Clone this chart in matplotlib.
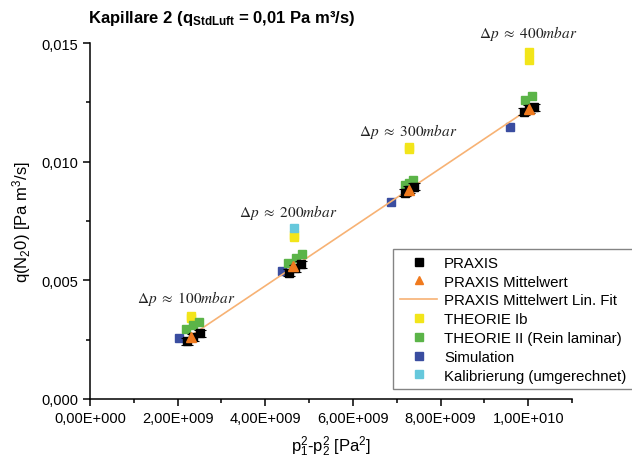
import matplotlib
matplotlib.use('Agg')
import matplotlib.pyplot as plt
import numpy as np
from matplotlib.ticker import FuncFormatter, MultipleLocator

plt.rcParams['font.family'] = ['Liberation Sans', 'DejaVu Sans']
plt.rcParams['mathtext.fontset'] = 'custom'
plt.rcParams['mathtext.rm'] = 'Liberation Sans'
plt.rcParams['mathtext.it'] = 'Liberation Sans:italic'
plt.rcParams['mathtext.bf'] = 'Liberation Sans:bold'

# PRAXIS Messpunkte (je 3 pro Druckstufe)
praxis_x = [2.21e9, 2.35e9, 2.51e9, 4.54e9, 4.68e9, 4.82e9,
            7.19e9, 7.28e9, 7.40e9, 9.91e9, 1.002e10, 1.014e10]
praxis_y = [0.00244, 0.00260, 0.00277, 0.00533, 0.00550, 0.00567,
            0.00870, 0.00882, 0.00895, 0.01210, 0.01222, 0.01230]
praxis_err = [0.00015] * 12

# PRAXIS Mittelwert
mittel_x = [2.30e9, 4.63e9, 7.28e9, 1.002e10]
mittel_y = [0.00263, 0.00560, 0.00882, 0.01222]

# THEORIE Ib
theo1_x = [2.30e9, 2.31e9, 4.66e9, 4.66e9, 7.29e9, 7.29e9, 1.002e10, 1.002e10]
theo1_y = [0.00340, 0.00350, 0.00684, 0.00692, 0.01052, 0.01062, 0.01430, 0.01462]

# THEORIE II (Rein laminar)
theo2_x = [2.19e9, 2.35e9, 2.49e9, 4.52e9, 4.70e9, 4.84e9,
           7.19e9, 7.28e9, 7.37e9, 9.93e9, 1.009e10]
theo2_y = [0.00294, 0.00310, 0.00326, 0.00575, 0.00594, 0.00611,
           0.00900, 0.00911, 0.00922, 0.01260, 0.01277]

# Simulation
sim_x = [2.04e9, 4.38e9, 6.87e9, 9.59e9]
sim_y = [0.00256, 0.00539, 0.00832, 0.01148]

# Kalibrierung (umgerechnet)
kal_x = [4.66e9]
kal_y = [0.00722]

labels = ['100', '200', '300', '400']
label_x = [2.19e9, 4.52e9, 7.26e9, 1.0e10]
label_y = [0.00428, 0.00790, 0.01130, 0.01546]

fig = plt.figure(figsize=(6.32, 4.64), dpi=100)
ax = fig.add_axes([0.1424, 0.138, 0.7627, 0.767])

coef = np.polyfit(mittel_x, mittel_y, 1)
fx = np.array([min(mittel_x), max(mittel_x)])

ax.errorbar(praxis_x, praxis_y, yerr=praxis_err, fmt='none',
            ecolor='black', elinewidth=0.8, capsize=4, capthick=0.8, zorder=4)
ax.plot(praxis_x, praxis_y, 's', color='black', ms=6, label='PRAXIS', zorder=4)
ax.plot(fx, np.polyval(coef, fx), '-', color='#F7B274', lw=1.2,
        label='PRAXIS Mittelwert Lin. Fit', zorder=3)
ax.plot(theo1_x, theo1_y, 's', color='#F2E51A', ms=6, label='THEORIE Ib', zorder=2)
ax.plot(theo2_x, theo2_y, 's', color='#5BB448', ms=6,
        label='THEORIE II (Rein laminar)', zorder=3)
ax.plot(sim_x, sim_y, 's', color='#3A4DA0', ms=6, label='Simulation', zorder=2)
ax.plot(kal_x, kal_y, 's', color='#66C8DC', ms=6,
        label='Kalibrierung (umgerechnet)', zorder=2)
ax.plot(mittel_x, mittel_y, '^', color='#F07A1E', ms=7,
        label='PRAXIS Mittelwert', zorder=5)

for t, lx, ly in zip(labels, label_x, label_y):
    ax.text(lx, ly, r'$\Delta p\ \approx\ %s mbar$' % t, math_fontfamily='stix',
            fontsize=11, ha='center', va='center', color='#222222')

ax.set_xlim(0, 1.1e10)
ax.set_ylim(0, 0.015)
ax.xaxis.set_major_locator(MultipleLocator(2e9))
ax.xaxis.set_minor_locator(MultipleLocator(1e9))
ax.yaxis.set_major_locator(MultipleLocator(0.005))
ax.yaxis.set_minor_locator(MultipleLocator(0.0025))


def fmt_x(v, pos):
    if v == 0:
        return '0,00E+000'
    e = int(np.floor(np.log10(abs(v))))
    m = v / 10 ** e
    return ('%.2f' % m).replace('.', ',') + 'E+%03d' % e


ax.xaxis.set_major_formatter(FuncFormatter(fmt_x))
ax.yaxis.set_major_formatter(FuncFormatter(lambda v, p: ('%.3f' % v).replace('.', ',')))

for s in ['top', 'right']:
    ax.spines[s].set_visible(False)
for s in ['left', 'bottom']:
    ax.spines[s].set_linewidth(1.1)
ax.tick_params(which='major', direction='out', length=5, width=1.1, labelsize=10.5)
ax.tick_params(which='minor', direction='out', length=3, width=1.1)

ax.set_xlabel(r'p$_1^2$-p$_2^2$ [Pa$^2$]', fontsize=12, labelpad=6)
ax.set_ylabel(r'q(N$_2$0) [Pa m$^3$/s]', fontsize=12, labelpad=6)
fig.text(88 / 632, 1 - 18 / 464, r'Kapillare 2 (q$_{\mathbf{StdLuft}}$ = 0,01 Pa m³/s)',
         fontsize=12, fontweight='bold', ha='left', va='center')

handles, labs = ax.get_legend_handles_labels()
order = ['PRAXIS', 'PRAXIS Mittelwert', 'PRAXIS Mittelwert Lin. Fit', 'THEORIE Ib',
         'THEORIE II (Rein laminar)', 'Simulation', 'Kalibrierung (umgerechnet)']
hmap = dict(zip(labs, handles))
leg = fig.legend([hmap[k] for k in order], order, loc='upper left',
                 bbox_to_anchor=(393 / 632, 1 - 250 / 464), fontsize=10.8,
                 frameon=True, fancybox=False, edgecolor='#666666',
                 borderpad=0.45, labelspacing=0.32, handlelength=2.5,
                 handletextpad=0.45, borderaxespad=0, markerscale=0.85)
leg.get_frame().set_linewidth(1.0)

fig.savefig('out.png', dpi=100)
